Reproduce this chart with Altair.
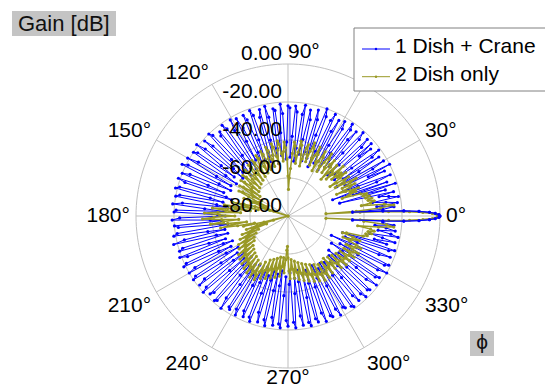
import altair as alt
import pandas as pd

# ---------------- data ----------------
SERIES = ["1 Dish + Crane", "2 Dish only"]

# main beam, sampled every 0.5 degree
BEAM_ANGLES = [-3.5, -3.0, -2.5, -2.0, -1.5, -1.0, -0.5, 0.0, 0.5, 1.0, 1.5, 2.0, 2.5, 3.0, 3.5]
BEAM_CRANE_DB = [-46, -30, -19, -11, -5.5, -2.5, -0.6, 0, -0.6, -2.5, -5.5, -11, -19, -30, -46]
BEAM_DISH_DB = [-60, -42, -27, -16, -9, -4, -1.5, -0.8, -1.5, -4, -9, -16, -27, -42, -60]

# side lobes, one value per degree starting at 4 degrees
SIDE_FIRST_ANGLE = 4
CRANE_SIDE_DB = [
    -30, -24, -33, -22, -28, -35, -21, -26, -31, -23,
    -52, -27, -38, -21, -44, -25, -55, -30, -22, -40,
    -48, -24, -33, -20, -46, -29, -22, -50, -36, -23,
    -45, -26, -21, -38, -49, -24, -31, -22, -47, -27,
    -22, -42, -50, -25, -21, -36, -46, -23, -29, -48,
    -24, -21, -40, -51, -26, -22, -37, -47, -23, -30,
    -49, -21, -25, -43, -52, -24, -20, -35, -48, -27,
    -22, -45, -50, -28, -23, -39, -47, -21, -26, -44,
    -51, -25, -22, -38, -49, -23, -22, -41, -50, -26,
    -21, -36, -48, -24, -23, -44, -52, -27, -21, -39,
    -47, -22, -26, -45, -50, -24, -21, -37, -48, -25,
    -22, -43, -49, -28, -22, -35, -46, -21, -27, -47,
    -50, -24, -21, -40, -48, -23, -25, -44, -51, -22,
    -20, -38, -47, -26, -21, -42, -49, -24, -19, -36,
    -45, -22, -20, -41, -48, -25, -19, -37, -46, -21,
    -18, -40, -47, -24, -20, -35, -44, -19, -23, -46,
    -49, -21, -19, -38, -45, -22, -20, -42, -48, -24,
    -19, -36, -46, -21, -20, -43, -47, -23, -19, -39,
    -45, -20, -22, -44, -48, -21, -19, -37, -46, -24,
    -18, -41, -47, -22, -20, -36, -45, -19, -23, -43,
    -48, -21, -19, -39, -46, -24, -20, -42, -49, -22,
    -20, -37, -47, -25, -21, -43, -50, -23, -20, -38,
    -48, -22, -24, -45, -51, -21, -22, -40, -47, -26,
    -20, -36, -49, -23, -22, -44, -50, -24, -21, -39,
    -48, -25, -22, -42, -51, -23, -21, -37, -47, -27,
    -22, -45, -50, -24, -21, -40, -49, -26, -22, -43,
    -51, -23, -21, -38, -48, -25, -22, -44, -50, -24,
    -21, -39, -47, -27, -22, -45, -51, -23, -21, -36,
    -48, -24, -22, -43, -50, -26, -21, -40, -47, -23,
    -22, -44, -51, -25, -21, -38, -48, -24, -23, -45,
    -50, -22, -21, -41, -49, -26, -22, -37, -47, -24,
    -21, -43, -50, -23, -22, -39, -52, -27, -21, -35,
    -47, -24, -22, -46, -53, -25, -20, -38, -49, -23,
    -21, -44, -55, -28, -22, -41, -48, -24, -21, -50,
    -26, -33, -22, -29, -36, -21, -25, -32, -23, -28,
    -34, -24, -30,
]
DISH_SIDE_DB = [
    -44, -31, -24, -29, -41, -36, -34, -37, -35, -38,
    -36, -39, -37, -40, -50, -46, -42, -45, -40, -47,
    -52, -44, -41, -48, -43, -39, -46, -51, -45, -42,
    -49, -53, -46, -42, -47, -44, -50, -45, -41, -48,
    -52, -47, -43, -49, -54, -46, -42, -45, -51, -48,
    -43, -40, -46, -52, -49, -44, -41, -47, -53, -48,
    -44, -40, -45, -51, -47, -42, -39, -44, -50, -46,
    -41, -43, -49, -53, -47, -42, -40, -46, -52, -48,
    -43, -41, -47, -55, -60, -66, -59, -50, -44, -41,
    -46, -51, -47, -42, -40, -45, -52, -48, -43, -41,
    -47, -53, -49, -44, -42, -48, -54, -50, -45, -43,
    -49, -55, -51, -46, -44, -50, -56, -52, -47, -45,
    -51, -57, -53, -48, -46, -52, -58, -54, -49, -47,
    -53, -59, -55, -50, -48, -54, -60, -56, -51, -49,
    -56, -62, -57, -52, -50, -58, -64, -59, -53, -51,
    -57, -63, -68, -61, -55, -60, -66, -72, -85, -70,
    -62, -56, -50, -58, -64, -55, -46, -52, -60, -48,
    -40, -47, -55, -43, -36, -44, -52, -41, -35, -45,
    -54, -46, -39, -48, -58, -50, -44, -53, -62, -56,
    -67, -88, -72, -63, -57, -62, -68, -60, -54, -58,
    -63, -57, -52, -56, -61, -55, -50, -54, -59, -53,
    -49, -53, -58, -52, -47, -51, -56, -50, -46, -50,
    -55, -49, -45, -49, -54, -48, -44, -48, -53, -47,
    -43, -47, -52, -46, -42, -46, -51, -45, -42, -47,
    -53, -48, -44, -49, -55, -50, -45, -50, -56, -51,
    -46, -51, -57, -52, -47, -52, -58, -53, -48, -53,
    -58, -54, -50, -57, -62, -64, -58, -51, -47, -52,
    -57, -52, -47, -51, -56, -50, -46, -50, -55, -49,
    -45, -49, -54, -48, -44, -48, -53, -47, -43, -47,
    -52, -46, -42, -46, -51, -45, -41, -45, -50, -44,
    -41, -45, -50, -46, -42, -46, -51, -47, -43, -46,
    -50, -45, -41, -44, -49, -44, -40, -43, -48, -43,
    -40, -43, -47, -42, -39, -42, -46, -41, -38, -42,
    -46, -41, -38, -41, -45, -49, -44, -40, -44, -50,
    -48, -39, -37, -38, -35, -37, -34, -36, -43, -32,
    -24, -28, -40,
]

RING_DB = [0, -20, -40, -60]
RING_LABEL_DB = [0, -20, -40, -60, -80]
SPOKE_ANGLES = [0, 30, 60, 90, 120, 150, 180, 210, 240, 270, 300, 330]
# the 60 degree label sits under the legend box in the reference
LABEL_ANGLES = [0, 30, 90, 120, 150, 180, 210, 240, 270, 300, 330]
DB_MIN, DB_MAX = -80, 0

BLUE = "#0000ff"
OLIVE = "#999926"
GRID = "#bfbfbf"
FONT = "Liberation Sans"

# ---------------- tables ----------------
rows = []
for name, beam, side in [(SERIES[0], BEAM_CRANE_DB, CRANE_SIDE_DB),
                         (SERIES[1], BEAM_DISH_DB, DISH_SIDE_DB)]:
    angs = BEAM_ANGLES + [SIDE_FIRST_ANGLE + i for i in range(len(side))]
    vals = beam + side
    for k, (a, v) in enumerate(zip(angs, vals)):
        rows.append({"series": name, "ang": a, "db": v, "idx": k,
                     "beam": 1 if abs(a) <= 3.5 else 0})
df = pd.DataFrame(rows)

ring_df = pd.DataFrame([{"ring": d, "db": d, "ang": a} for d in RING_DB for a in range(0, 361, 2)])
spoke_df = pd.DataFrame({"ang": SPOKE_ANGLES})
rlab_df = pd.DataFrame({"db": RING_LABEL_DB, "txt": [f"{d:.2f}" for d in RING_LABEL_DB]})


def lab_align(a):
    if a in (0, 30, 60, 90, 300, 330):
        return "left"
    if a == 270:
        return "center"
    return "right"


def lab_base(a):
    if a in (0, 180):
        return "middle"
    if 0 < a < 180:
        return "bottom"
    return "top"


alab_df = pd.DataFrame({
    "ang": LABEL_ANGLES,
    "txt": [f"{a}\u00b0" for a in LABEL_ANGLES],
    "al": [lab_align(a) for a in LABEL_ANGLES],
    "bl": [lab_base(a) for a in LABEL_ANGLES],
})

SC = alt.Scale(domain=[-1, 1], nice=False, zero=False)


def X(f):
    return alt.X(f, type="quantitative", scale=SC, axis=None)


def Y(f):
    return alt.Y(f, type="quantitative", scale=SC, axis=None)


def polar(ch):
    return ch.transform_calculate(
        r=f"max(0, (datum.db - ({DB_MIN})) / ({DB_MAX} - ({DB_MIN})))"
    ).transform_calculate(
        px="datum.r * cos(datum.ang * PI / 180)",
        py="datum.r * sin(datum.ang * PI / 180)",
    )


layers = []

# grid rings
layers.append(
    polar(alt.Chart(ring_df)).mark_line(color=GRID, strokeWidth=1).encode(
        x=X("px"), y=Y("py"), detail="ring:N", order="ang:Q")
)
# spokes
layers.append(
    alt.Chart(spoke_df).transform_calculate(
        x0="0", y0="0",
        sx="cos(datum.ang * PI / 180)", sy="sin(datum.ang * PI / 180)"
    ).mark_rule(color=GRID, strokeWidth=1).encode(
        x=X("x0"), y=Y("y0"), x2="sx:Q", y2="sy:Q")
)

# data series
for name, color, lw, ps in [(SERIES[0], BLUE, 1.0, 10), (SERIES[1], OLIVE, 1.5, 10)]:
    b = polar(alt.Chart(df).transform_filter(alt.datum.series == name))
    layers.append(b.mark_line(color=color, strokeWidth=lw).encode(
        x=X("px"), y=Y("py"), order="idx:Q"))
    layers.append(b.mark_circle(color=color, size=ps, opacity=1).encode(
        x=X("px"), y=Y("py")))

# blue main beam redrawn on top so the lobe stays blue
bb = polar(alt.Chart(df).transform_filter(
    (alt.datum.series == SERIES[0]) & (alt.datum.beam == 1)))
layers.append(bb.mark_line(color=BLUE, strokeWidth=1.2).encode(
    x=X("px"), y=Y("py"), order="idx:Q"))
layers.append(bb.mark_circle(color=BLUE, size=10, opacity=1).encode(
    x=X("px"), y=Y("py")))

# ring labels
layers.append(
    alt.Chart(rlab_df).transform_calculate(
        lx="-0.04",
        ly=f"(datum.db - ({DB_MIN})) / ({DB_MAX} - ({DB_MIN})) + 0.068",
    ).mark_text(align="right", baseline="middle", font=FONT, fontSize=21, color="black").encode(
        x=X("lx"), y=Y("ly"), text="txt:N")
)

# angle labels
for al in ["left", "right", "center"]:
    for bl in ["top", "middle", "bottom"]:
        sub = alab_df[(alab_df.al == al) & (alab_df.bl == bl)]
        if len(sub) == 0:
            continue
        dy = 4 if bl == "bottom" else (-7 if al == "center" else 0)
        layers.append(
            alt.Chart(sub).transform_calculate(
                lx="1.04 * cos(datum.ang * PI / 180)",
                ly="1.04 * sin(datum.ang * PI / 180)",
            ).mark_text(align=al, baseline=bl, font=FONT, fontSize=21, color="black",
                        dy=dy).encode(
                x=X("lx"), y=Y("ly"), text="txt:N")
        )

one = alt.Data(values=[{"k": 0}])

# legend box
layers.append(alt.Chart(one).mark_rect(fill="white", stroke="#808080", strokeWidth=1).encode(
    x=alt.value(218), x2=alt.value(440), y=alt.value(-36), y2=alt.value(27)))
for i, (name, color) in enumerate([(SERIES[0], BLUE), (SERIES[1], OLIVE)]):
    yy = -15 + i * 27.7
    layers.append(alt.Chart(one).mark_rule(color=color, strokeWidth=1).encode(
        x=alt.value(226), x2=alt.value(254), y=alt.value(yy)))
    layers.append(alt.Chart(one).mark_circle(color=color, size=6, opacity=1).encode(
        x=alt.value(240), y=alt.value(yy)))
    layers.append(alt.Chart(one).mark_text(align="left", baseline="middle", font=FONT,
                                           fontSize=21, color="black", text=name).encode(
        x=alt.value(259), y=alt.value(yy - 2)))

# "Gain [dB]" tag
layers.append(alt.Chart(one).mark_rect(fill="#c4c4c4").encode(
    x=alt.value(-124), x2=alt.value(-20), y=alt.value(-53), y2=alt.value(-28)))
layers.append(alt.Chart(one).mark_text(align="left", baseline="middle", font=FONT,
                                       fontSize=22, color="#111111", text="Gain [dB]").encode(
    x=alt.value(-118), y=alt.value(-40)))

# phi tag
layers.append(alt.Chart(one).mark_rect(fill="#c4c4c4").encode(
    x=alt.value(334), x2=alt.value(358), y=alt.value(267), y2=alt.value(292)))
layers.append(alt.Chart(one).mark_text(align="center", baseline="middle", font=FONT,
                                       fontSize=21, color="#111111", text="\u03d5").encode(
    x=alt.value(346), y=alt.value(279)))

chart = alt.layer(*layers).properties(
    width=304, height=304,
    padding={"left": 128, "top": 56, "right": 105, "bottom": 22},
    autosize=alt.AutoSizeParams(type="none"),
    background="white",
).configure_view(stroke=None)

chart.save("out.html", embed_options={"renderer": "svg", "actions": False})
